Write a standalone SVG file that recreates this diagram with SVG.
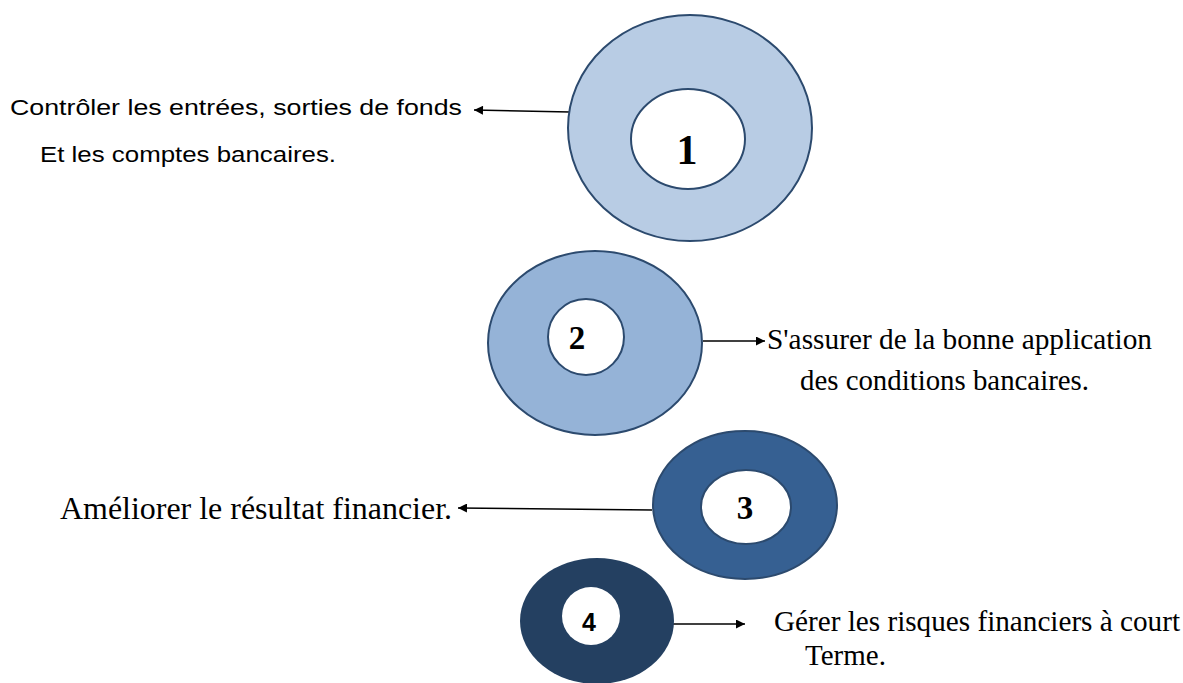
<svg xmlns="http://www.w3.org/2000/svg" width="1183" height="683" viewBox="0 0 1183 683">
<defs>
<marker id="ah" viewBox="0 0 10 10" refX="10" refY="5" markerWidth="12" markerHeight="9" markerUnits="userSpaceOnUse" orient="auto"><path d="M0,0 L10,5 L0,10 z" fill="#000"/></marker>
<style>
.ring{stroke:#2c4a6e;stroke-width:2}
.hole{fill:#fff;stroke:#2c4a6e;stroke-width:2}
.num{font-family:"Liberation Serif",serif;font-weight:bold;text-anchor:middle;fill:#000}
.sans{font-family:"Liberation Sans",Arial,sans-serif;fill:#000}
.serif{font-family:"Liberation Serif","Times New Roman",serif;fill:#000}
.conn{stroke:#000;stroke-width:1.6;fill:none;marker-end:url(#ah)}
</style>
</defs>
<rect width="1183" height="683" fill="#fff"/>
<g id="connectors">
<line class="conn" x1="570" y1="112" x2="474" y2="110"/>
<line class="conn" x1="703" y1="341" x2="765" y2="341"/>
<line class="conn" x1="652" y1="510" x2="458" y2="508"/>
<line class="conn" x1="673" y1="624" x2="745" y2="624"/>
</g>
<g id="node1">
<ellipse class="ring" cx="690" cy="128" rx="122" ry="113" fill="#b8cce4"/>
<ellipse class="hole" cx="688" cy="139" rx="57" ry="50"/>
<text class="num" x="687" y="164" font-size="42">1</text>
</g>
<g id="node2">
<ellipse class="ring" cx="595" cy="343" rx="107" ry="92" fill="#95b3d7"/>
<ellipse class="hole" cx="586" cy="337" rx="38" ry="38"/>
<text class="num" x="577" y="349" font-size="33">2</text>
</g>
<g id="node3">
<ellipse class="ring" cx="745" cy="505" rx="92" ry="74" fill="#366092"/>
<ellipse class="hole" cx="746" cy="507" rx="45" ry="37"/>
<text class="num" x="745" y="519" font-size="33">3</text>
</g>
<g id="node4">
<ellipse cx="597" cy="621" rx="77" ry="63" fill="#244061"/>
<circle cx="591" cy="616" r="29" fill="#fff"/>
<text x="589" y="631" font-size="25" font-weight="bold" text-anchor="middle" class="sans">4</text>
</g>
<g id="labels">
<text class="sans" x="10" y="115" font-size="22" textLength="452" lengthAdjust="spacingAndGlyphs">Contrôler les entrées, sorties de fonds</text>
<text class="sans" x="40" y="162" font-size="22" textLength="296" lengthAdjust="spacingAndGlyphs">Et les comptes bancaires.</text>
<text class="serif" x="767" y="349" font-size="29" textLength="385" lengthAdjust="spacingAndGlyphs">S'assurer de la bonne application</text>
<text class="serif" x="800" y="390" font-size="29" textLength="289" lengthAdjust="spacingAndGlyphs">des conditions bancaires.</text>
<text class="serif" x="60" y="519" font-size="32" textLength="392" lengthAdjust="spacingAndGlyphs">Améliorer le résultat financier.</text>
<text class="serif" x="774" y="631" font-size="29" textLength="406" lengthAdjust="spacingAndGlyphs">Gérer les risques financiers à court</text>
<text class="serif" x="805" y="665" font-size="29">Terme.</text>
</g>
</svg>
